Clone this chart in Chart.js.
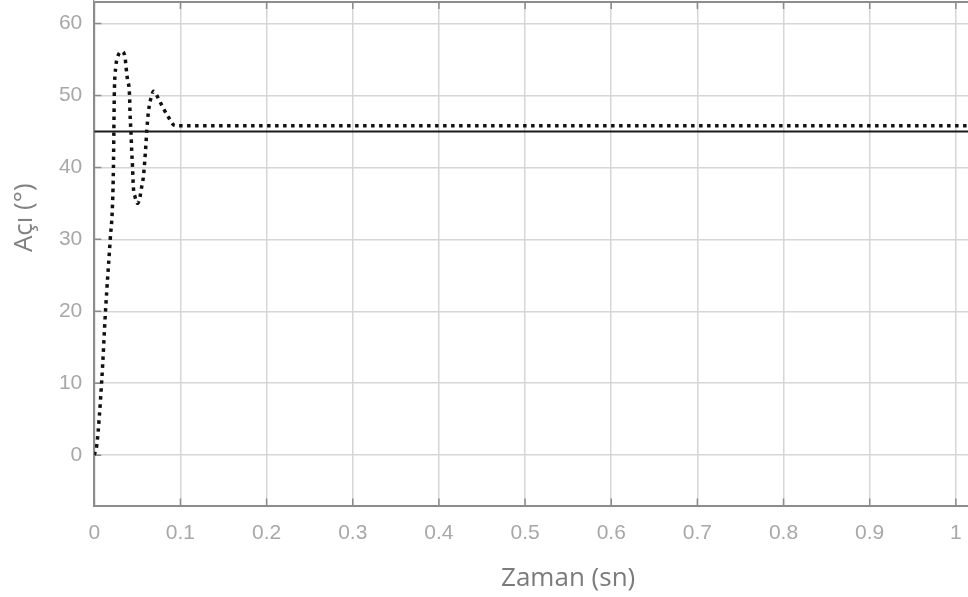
<!DOCTYPE html>
<html>
<head>
<meta charset="utf-8">
<script src="https://cdn.jsdelivr.net/npm/chart.js@4/dist/chart.umd.min.js"></script>
<style>
  html, body { margin: 0; padding: 0; background: #fff; overflow: hidden; }
  #wrap { width: 1060px; height: 667px; margin-top: -70px; }
</style>
</head>
<body>
<div id="wrap"><canvas id="c" width="1060" height="667"></canvas></div>
<script>
// Step response of the angle controller (time in seconds, angle in degrees)
const timeSec = [0, 0.003, 0.0085, 0.0131, 0.0185, 0.0212, 0.0222, 0.0227, 0.0232, 0.025,
  0.027, 0.032, 0.0357, 0.0368, 0.0384, 0.0409, 0.0415, 0.0425, 0.0434, 0.0444,
  0.0453, 0.0473, 0.0502, 0.053, 0.055, 0.057, 0.058, 0.0597, 0.0609, 0.0628,
  0.0647, 0.0667, 0.0686, 0.0725, 0.0763, 0.086, 0.0938, 0.1, 1.1];
const angleDeg = [0, 1.5, 10.1, 20.2, 30, 35, 40, 45, 50, 54,
  55.3, 56.1, 55.3, 54, 52.3, 50, 47.4, 45, 42.4, 40,
  37.3, 35.9, 35, 35.9, 37.3, 38.7, 40, 42.8, 45.1, 47.7,
  49.1, 50, 50.6, 50, 49.1, 47, 45.8, 45.8, 45.8];

// Set-point reference
const refTime = [0, 1.1];
const refAngle = [45, 45];

// Axis tick values
const xTicks = [0, 0.1, 0.2, 0.3, 0.4, 0.5, 0.6, 0.7, 0.8, 0.9, 1, 1.1];
const yTicks = [0, 10, 20, 30, 40, 50, 60];
// Upper edge of the framed plot box (degrees)
const frameTopDeg = 63;

const xLabel = 'Zaman (sn)';
const yLabel = 'Açı (°)';

const toPoints = (xs, ys) => xs.map((x, i) => ({ x: x, y: ys[i] }));

// Box top plus small inward tick marks, MATLAB-style
const frame = {
  id: 'frame',
  beforeDatasetsDraw(chart) {
    const { ctx, chartArea: a, scales: { x, y } } = chart;
    const top = y.getPixelForValue(frameTopDeg);
    ctx.save();
    ctx.fillStyle = '#fff';
    ctx.fillRect(a.left, a.top, a.right - a.left, top - a.top);
    ctx.strokeStyle = '#8c8c8c';
    ctx.lineWidth = 2;
    ctx.beginPath();
    ctx.moveTo(a.left, top);
    ctx.lineTo(a.right, top);
    ctx.stroke();
    ctx.lineWidth = 1.5;
    ctx.beginPath();
    x.ticks.forEach(t => {
      const px = x.getPixelForValue(t.value);
      ctx.moveTo(px, a.bottom); ctx.lineTo(px, a.bottom - 7);
      ctx.moveTo(px, top); ctx.lineTo(px, top + 7);
    });
    y.ticks.forEach(t => {
      const py = y.getPixelForValue(t.value);
      ctx.moveTo(a.left, py); ctx.lineTo(a.left + 7, py);
    });
    ctx.stroke();
    ctx.restore();
  }
};

const tickFont = { family: 'Liberation Sans, Arial, sans-serif', size: 21 };
const titleFont = { family: 'Open Sans, sans-serif', size: 26 };

new Chart(document.getElementById('c'), {
  type: 'line',
  data: {
    datasets: [
      {
        data: toPoints(refTime, refAngle),
        borderColor: '#1a1a1a',
        borderWidth: 2,
        pointRadius: 0,
        tension: 0
      },
      {
        data: toPoints(timeSec, angleDeg),
        borderColor: '#111',
        borderWidth: 3.5,
        borderDash: [3.5, 4.5],
        borderCapStyle: 'butt',
        pointRadius: 0,
        cubicInterpolationMode: 'monotone'
      }
    ]
  },
  options: {
    responsive: false,
    devicePixelRatio: 1,
    animation: false,
    layout: { padding: { top: 0, right: 18, left: 0, bottom: 0 } },
    plugins: { legend: { display: false }, tooltip: { enabled: false } },
    scales: {
      x: {
        type: 'linear',
        min: 0,
        max: 1.1,
        afterBuildTicks: s => { s.ticks = xTicks.map(v => ({ value: v })); },
        afterFit: s => { s.height = 91.5; s.paddingLeft = 0; s.paddingRight = 0; },
        grid: { color: '#d6d6d6', lineWidth: 1.5, drawTicks: false },
        border: { color: '#8c8c8c', width: 2 },
        ticks: { color: '#a8a8a8', font: tickFont, padding: 15, maxRotation: 0,
                 callback: v => String(v) },
        title: { display: true, text: xLabel, color: '#7b7b7b', font: titleFont,
                 padding: { top: 0, bottom: 3 } }
      },
      y: {
        type: 'linear',
        min: -7,
        max: 73,
        afterBuildTicks: s => { s.ticks = yTicks.map(v => ({ value: v })); },
        afterFit: s => { s.width = 94.3; s.paddingTop = 0; s.paddingBottom = 0; },
        grid: { color: '#d6d6d6', lineWidth: 1.5, drawTicks: false },
        border: { color: '#8c8c8c', width: 2 },
        ticks: { color: '#a8a8a8', font: tickFont, padding: 12,
                 callback: v => String(v) },
        title: { display: true, text: yLabel, color: '#828282', font: titleFont,
                 padding: { top: 9, bottom: 0 } }
      }
    }
  },
  plugins: [frame]
});
</script>
</body>
</html>
